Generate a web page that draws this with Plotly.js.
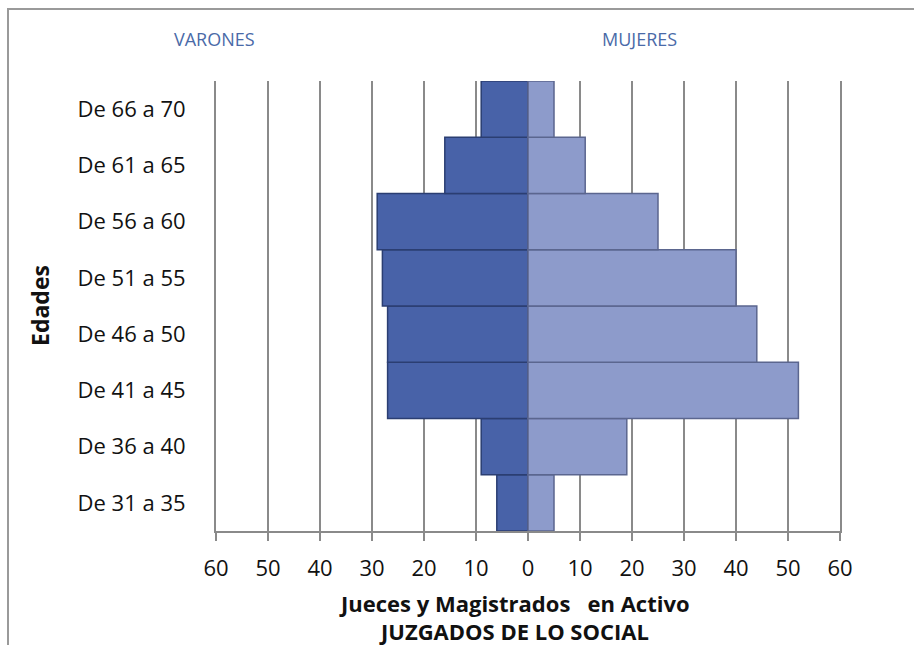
<!DOCTYPE html>
<html>
<head>
<meta charset="utf-8">
<script src="https://cdn.plot.ly/plotly-3.0.1.min.js"></script>
<style>
html,body{margin:0;padding:0;background:#fff;}
#frame{position:absolute;left:7px;top:8px;width:1000px;height:1000px;border:2px solid #9a9a9a;}
#chart{position:absolute;left:0;top:0;width:914px;height:645px;}
</style>
</head>
<body>
<div id="frame"></div>
<div id="chart"></div>
<script>
const categories = ["De 31 a 35","De 36 a 40","De 41 a 45","De 46 a 50","De 51 a 55","De 56 a 60","De 61 a 65","De 66 a 70"];
const varones = [6, 9, 27, 27, 28, 29, 16, 9];
const mujeres = [5, 19, 52, 44, 40, 25, 11, 5];
const tickValues = [-60,-50,-40,-30,-20,-10,0,10,20,30,40,50,60];
const tickLabels = ["60","50","40","30","20","10","0","10","20","30","40","50","60"];

const font = "'Open Sans', 'Noto Sans', sans-serif";

const traces = [
  {
    type: "bar", orientation: "h", name: "Varones",
    y: categories, x: varones.map(v => -v),
    marker: {color: "#4862a8", line: {color: "#2b3e72", width: 1.5}},
    hoverinfo: "skip"
  },
  {
    type: "bar", orientation: "h", name: "Mujeres",
    y: categories, x: mujeres,
    marker: {color: "#8d9bcb", line: {color: "#5b668f", width: 1.5}},
    hoverinfo: "skip"
  }
];

const layout = {
  width: 914, height: 645,
  margin: {l: 216, r: 74, t: 81, b: 114},
  paper_bgcolor: "rgba(0,0,0,0)",
  plot_bgcolor: "rgba(0,0,0,0)",
  barmode: "relative",
  bargap: 0,
  showlegend: false,
  font: {family: font, color: "#111"},
  xaxis: {
    range: [-60, 60],
    tickvals: tickValues, ticktext: tickLabels,
    showgrid: true, gridcolor: "#8a8a8a", gridwidth: 2,
    zeroline: true, zerolinecolor: "#8a8a8a", zerolinewidth: 2,
    showline: true, linecolor: "#8a8a8a", linewidth: 2,
    ticks: "outside", ticklen: 8, tickwidth: 2, tickcolor: "#8a8a8a",
    ticklabelstandoff: 9,
    tickfont: {size: 22, family: font, color: "#111"},
    fixedrange: true
  },
  yaxis: {
    showgrid: false, zeroline: false,
    showline: true, linecolor: "#8a8a8a", linewidth: 2, mirror: true,
    ticks: "", ticklabelstandoff: 24,
    tickfont: {size: 22, family: font, color: "#111"},
    automargin: false,
    fixedrange: true
  },
  annotations: [
    {text: "VARONES", xref: "paper", yref: "paper", x: -0.003, y: 1.0, xanchor: "center", yanchor: "middle",
     yshift: 42, showarrow: false, font: {size: 18, family: font, color: "#4a6aa8"}},
    {text: "MUJERES", xref: "paper", yref: "paper", x: 0.679, y: 1.0, xanchor: "center", yanchor: "middle",
     yshift: 42, showarrow: false, font: {size: 18, family: font, color: "#4a6aa8"}},
    {text: "<b>Jueces y Magistrados   en Activo</b>", xref: "paper", yref: "paper", x: 0.478, y: 0, xanchor: "center", yanchor: "middle",
     yshift: -72, showarrow: false, font: {size: 22, family: font, color: "#111"}},
    {text: "<b>JUZGADOS DE LO SOCIAL</b>", xref: "paper", yref: "paper", x: 0.478, y: 0, xanchor: "center", yanchor: "middle",
     yshift: -100, showarrow: false, font: {size: 22, family: font, color: "#111"}},
    {text: "<b>Edades</b>", xref: "paper", yref: "paper", x: 0, y: 0.5, xanchor: "center", yanchor: "middle",
     xshift: -176, yshift: 0, textangle: -90, showarrow: false, font: {size: 23, family: font, color: "#111"}}
  ]
};

Plotly.newPlot("chart", traces, layout, {displayModeBar: false, staticPlot: true});
</script>
</body>
</html>
